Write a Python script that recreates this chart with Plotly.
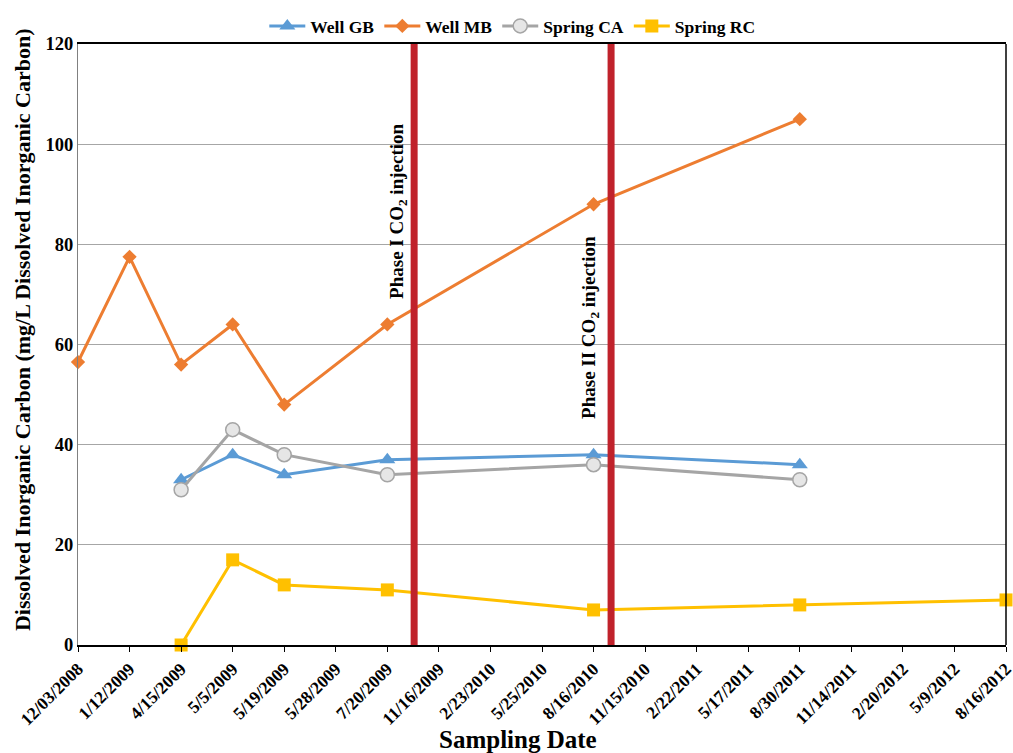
import plotly.graph_objects as go

dates = ["12/03/2008", "1/12/2009", "4/15/2009", "5/5/2009", "5/19/2009", "5/28/2009",
         "7/20/2009", "11/16/2009", "2/23/2010", "5/25/2010", "8/16/2010", "11/15/2010",
         "2/22/2011", "5/17/2011", "8/30/2011", "11/14/2011", "2/20/2012", "5/9/2012",
         "8/16/2012"]
y_ticks = [0, 20, 40, 60, 80, 100, 120]

gb_dates = ["4/15/2009", "5/5/2009", "5/19/2009", "7/20/2009", "8/16/2010", "8/30/2011"]
gb_vals = [33, 38, 34, 37, 38, 36]

mb_dates = ["12/03/2008", "1/12/2009", "4/15/2009", "5/5/2009", "5/19/2009", "7/20/2009",
            "8/16/2010", "8/30/2011"]
mb_vals = [56.5, 77.5, 56, 64, 48, 64, 88, 105]

ca_dates = ["4/15/2009", "5/5/2009", "5/19/2009", "7/20/2009", "8/16/2010", "8/30/2011"]
ca_vals = [31, 43, 38, 34, 36, 33]

rc_dates = ["4/15/2009", "5/5/2009", "5/19/2009", "7/20/2009", "8/16/2010", "8/30/2011",
            "8/16/2012"]
rc_vals = [0, 17, 12, 11, 7, 8, 9]

# injection markers, in category-index units along the x axis
injection_x = [6.52, 10.34]
injection_labels = ["Phase I CO<sub>2</sub> injection", "Phase II CO<sub>2</sub> injection"]
label_x = [6.21, 9.93]
label_y = [86.5, 63.5]

FONT = "Liberation Serif"

fig = go.Figure()
fig.add_trace(go.Scatter(x=gb_dates, y=gb_vals, name="<b>Well GB</b>", mode="lines+markers",
                         line=dict(color="#5B9BD5", width=3),
                         marker=dict(symbol="triangle-up", size=14, color="#5B9BD5")))
fig.add_trace(go.Scatter(x=mb_dates, y=mb_vals, name="<b>Well MB</b>", mode="lines+markers",
                         line=dict(color="#ED7D31", width=3),
                         marker=dict(symbol="diamond", size=11, color="#ED7D31")))
fig.add_trace(go.Scatter(x=ca_dates, y=ca_vals, name="<b>Spring CA</b>", mode="lines+markers",
                         line=dict(color="#A5A5A5", width=3),
                         marker=dict(symbol="circle", size=14, color="#E6E6E6",
                                     line=dict(color="#A5A5A5", width=1.5))))
fig.add_trace(go.Scatter(x=rc_dates, y=rc_vals, name="<b>Spring RC</b>", mode="lines+markers",
                         line=dict(color="#FFC000", width=3),
                         marker=dict(symbol="square", size=13, color="#FFC000")))

for xv in injection_x:
    fig.add_shape(type="line", xref="x", yref="y", x0=xv, x1=xv, y0=0, y1=120,
                  line=dict(color="#C0222B", width=7), layer="above")

for txt, xv, yv in zip(injection_labels, label_x, label_y):
    fig.add_annotation(x=xv, y=yv, xref="x", yref="y", text="<b>" + txt + "</b>",
                       textangle=-90, showarrow=False,
                       font=dict(family=FONT, size=19, color="black"))

# axis titles
fig.add_annotation(x=0.474, y=-0.158, xref="paper", yref="paper",
                   xanchor="center", yanchor="middle",
                   text="<b>Sampling Date</b>", showarrow=False,
                   font=dict(family=FONT, size=25, color="black"))
fig.add_annotation(x=-0.0603, y=0.524, xref="paper", yref="paper",
                   xanchor="center", yanchor="middle",
                   text="<b>Dissolved Inorganic Carbon (mg/L Dissolved Inorganic Carbon)</b>",
                   textangle=-90, showarrow=False,
                   font=dict(family=FONT, size=22, color="black"))

# right border of the plot frame
fig.add_shape(type="line", xref="paper", yref="paper", x0=1, x1=1, y0=0, y1=1,
              line=dict(color="black", width=1.5))

fig.update_layout(
    width=1013, height=753,
    margin=dict(l=78, r=7, t=44, b=108, autoexpand=False),
    paper_bgcolor="white", plot_bgcolor="white",
    font=dict(family=FONT, color="black"),
    legend=dict(orientation="h", x=0.468, xanchor="center", y=1.0, yanchor="bottom",
                bgcolor="rgba(0,0,0,0)",
                font=dict(family=FONT, size=17.5, color="black"), itemwidth=36,
                traceorder="normal"),
    xaxis=dict(type="category", categoryorder="array", categoryarray=dates,
               range=[0, len(dates) - 1], tickangle=-45, automargin=False,
               tickmode="array", tickvals=dates, ticktext=["<b>" + d + "</b>" for d in dates],
               tickfont=dict(family=FONT, size=17.5, color="black"),
               showgrid=False, showline=True, linecolor="black", linewidth=1.5,
               mirror=True, ticks="outside", ticklen=5, tickcolor="black",
               zeroline=False),
    yaxis=dict(range=[0, 120], automargin=False,
               tickmode="array", tickvals=y_ticks, ticktext=["<b>%d</b>" % v for v in y_ticks],
               showgrid=True, gridcolor="#A6A6A6", gridwidth=1,
               showline=True, linecolor="#808080", linewidth=1,
               tickfont=dict(family=FONT, size=18.5, color="black"), ticks="",
               zeroline=False),
)
fig.update_traces(cliponaxis=False)

fig.write_html("out.html")
